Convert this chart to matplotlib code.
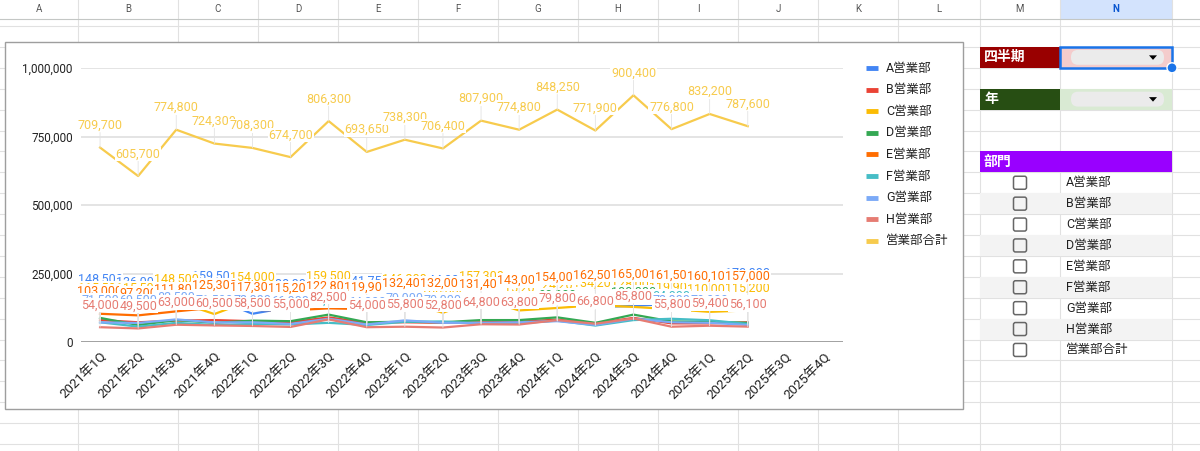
import matplotlib
matplotlib.use('Agg')
import matplotlib.pyplot as plt
from matplotlib.patches import Rectangle, FancyBboxPatch, Polygon, Circle

plt.rcParams['font.family'] = ['Roboto', 'Noto Sans CJK JP', 'DejaVu Sans']

# 横軸 (四半期)
quarters = ['2021年1Q', '2021年2Q', '2021年3Q', '2021年4Q',
            '2022年1Q', '2022年2Q', '2022年3Q', '2022年4Q',
            '2023年1Q', '2023年2Q', '2023年3Q', '2023年4Q',
            '2024年1Q', '2024年2Q', '2024年3Q', '2024年4Q',
            '2025年1Q', '2025年2Q', '2025年3Q', '2025年4Q']

# 各営業部の売上 (2021年1Q～2025年2Q)
sales_a = [148500, 136000, 140000, 159500, 103000, 128000, 136000, 141750, 138000,
           144000, 140000, 136000, 138000, 128000, 131400, 140000, 150000, 170000]
sales_b = [80000, 72000, 78000, 80000, 76000, 72000, 90000, 70000, 72000,
           70000, 72000, 74000, 82000, 68000, 88000, 68000, 68000, 72000]
sales_c = [115500, 115500, 148500, 102000, 154000, 117000, 159500, 120000, 146200,
           106600, 157300, 115200, 124200, 134200, 128000, 119900, 110000, 115200]
sales_d = [88000, 62000, 80000, 70000, 78000, 76000, 100000, 72000, 74000,
           72000, 80000, 80000, 90000, 70000, 100000, 75000, 74000, 70000]
sales_e = [103000, 97200, 111800, 125300, 117300, 115200, 122800, 119900, 132400,
           132000, 131400, 143000, 154000, 162500, 165000, 161500, 160100, 157000]
sales_f = [72000, 56000, 70000, 62000, 66000, 64000, 70000, 62000, 73800,
           75000, 66000, 68000, 78000, 60000, 80000, 84800, 79400, 66000]
sales_g = [71500, 69500, 82500, 71500, 72000, 66000, 85000, 64000, 79000,
           70000, 70000, 72000, 76000, 62200, 85000, 72000, 70000, 62000]
sales_h = [54000, 49500, 63000, 60500, 58500, 55000, 82500, 54000, 55800,
           52800, 64800, 63800, 79800, 66800, 85800, 55800, 59400, 56100]
sales_total = [709700, 605700, 774800, 724300, 708300, 674700, 806300, 693650, 738300,
               706400, 807900, 774800, 848250, 771900, 900400, 776800, 832200, 787600]

names = ['A営業部', 'B営業部', 'C営業部', 'D営業部', 'E営業部',
         'F営業部', 'G営業部', 'H営業部', '営業部合計']
colors = ['#4285F4', '#EA4335', '#FBBC04', '#34A853', '#FF6D01',
          '#46BDC6', '#7BAAF7', '#E67C73', '#F7CB4D']
series = [sales_a, sales_b, sales_c, sales_d, sales_e, sales_f, sales_g, sales_h, sales_total]

fig = plt.figure(figsize=(12, 4.51), dpi=100)

# ---- シート背景 (ピクセル座標) ----
bg = fig.add_axes([0, 0, 1, 1])
bg.set_xlim(0, 1200)
bg.set_ylim(451, 0)
bg.axis('off')

col_edges = [0, 78, 178, 258, 338, 418, 498, 578, 658, 738, 818, 898, 980, 1060, 1172, 1200]
col_names = list('ABCDEFGHIJKLMN')
row_h = 20.9
row_edges = [26 + row_h * k for k in range(21)]

bg.add_patch(Rectangle((1060, 0), 112, 19, fc='#D3E3FD', ec='none', zorder=0))
for x in col_edges[1:-1]:
    bg.plot([x, x], [0, 451], color='#E1E1E1', lw=0.8, zorder=0.5)
bg.plot([0, 1200], [19, 19], color='#C4C7C5', lw=0.8, zorder=0.5)
for y in row_edges:
    bg.plot([0, 1200], [y, y], color='#E1E1E1', lw=0.8, zorder=0.5)
for i, c in enumerate(col_names):
    cx = (col_edges[i] + col_edges[i + 1]) / 2
    bg.text(cx, 9.5, c, ha='center', va='center', fontsize=7,
            color='#0B57D0' if c == 'N' else '#555555',
            fontweight='bold' if c == 'N' else 'normal', zorder=1)

# グラフ枠
bg.add_patch(Rectangle((5, 42), 958, 367, fc='white', ec='#9E9E9E', lw=1, zorder=2))

# ---- 右側のコントロール ----
def cell(r0, r1, x0, x1, color):
    bg.add_patch(Rectangle((x0, row_edges[r0]), x1 - x0, row_edges[r1] - row_edges[r0],
                           fc=color, ec='none', zorder=1))

def dropdown(r):
    y0 = row_edges[r]
    bg.add_patch(FancyBboxPatch((1071, y0 + 3), 93, row_h - 6,
                                boxstyle='round,pad=0,rounding_size=7',
                                fc='#EBEBEB', ec='none', zorder=1.5))
    cy = y0 + row_h / 2
    bg.add_patch(Polygon([[1149, cy - 2], [1157, cy - 2], [1153, cy + 2.5]],
                         closed=True, fc='black', ec='none', zorder=1.6))

cell(1, 2, 980, 1060, '#990000')
cell(1, 2, 1060, 1172, '#F4CCCC')
dropdown(1)
bg.text(984, row_edges[1] + row_h / 2, '四半期', color='white', fontsize=10,
        fontweight='bold', va='center', zorder=2)
bg.add_patch(Rectangle((1060, row_edges[1]), 112, row_h, fc='none', ec='#1A73E8', lw=1.8, zorder=3))
bg.add_patch(Circle((1172, row_edges[2]), 5, fc='#1A73E8', ec='white', lw=1, zorder=3.1))

cell(3, 4, 980, 1060, '#274E13')
cell(3, 4, 1060, 1172, '#D9EAD3')
dropdown(3)
bg.text(984, row_edges[3] + row_h / 2, '年', color='white', fontsize=10,
        fontweight='bold', va='center', zorder=2)

cell(6, 7, 980, 1172, '#9900FF')
bg.text(984, row_edges[6] + row_h / 2, '部門', color='white', fontsize=10,
        fontweight='bold', va='center', zorder=2)

for k, name in enumerate(names):
    r = 7 + k
    if k % 2 == 1:
        cell(r, r + 1, 980, 1172, '#F3F3F3')
    cy = row_edges[r] + row_h / 2
    bg.add_patch(FancyBboxPatch((1013.5, cy - 6.5), 13, 13,
                                boxstyle='round,pad=0,rounding_size=2',
                                fc='none', ec='#666666', lw=1.1, zorder=2))
    bg.text(1066, cy, name, fontsize=9, color='#222222', va='center', zorder=2)

# ---- 凡例 ----
for k, (name, color) in enumerate(zip(names, colors)):
    ly = 68 + 21.6 * k
    bg.plot([866, 878], [ly, ly], color=color, lw=3.5, solid_capstyle='butt', zorder=3)
    bg.text(886, ly, name, fontsize=9, color='#222222', va='center', zorder=3)

# ---- 折れ線グラフ ----
ax = fig.add_axes([81 / 1200, (451 - 342) / 451, 762 / 1200, 274 / 451])
ax.set_facecolor('none')
ax.set_zorder(5)
ax.set_xlim(-0.5, len(quarters) - 0.5)
ax.set_ylim(0, 1000000)
ax.set_yticks([0, 250000, 500000, 750000, 1000000])
ax.set_yticklabels([f'{v:,}' for v in [0, 250000, 500000, 750000, 1000000]],
                   fontsize=8.5, color='#222222')
ax.set_xticks(range(len(quarters)))
ax.set_xticklabels(quarters, rotation=45, ha='right', va='top',
                   rotation_mode='anchor', fontsize=9.5, color='#222222')
ax.tick_params(length=0, pad=6)
for s in ax.spines.values():
    s.set_visible(False)
ax.grid(axis='y', color='#DDDDDD', lw=1.1)
ax.axhline(0, color='#8E8E8E', lw=1.8, zorder=1.5)
ax.set_axisbelow(True)

for vals, color in zip(series, colors):
    ax.plot(range(len(vals)), vals, color=color, lw=1.6, zorder=2,
            solid_joinstyle='round')

for i, (vals, color) in enumerate(zip(series, colors)):
    for xi, v in enumerate(vals):
        ax.annotate(f'{v:,}', (xi, v), xytext=(0, 16), textcoords='offset points',
                    ha='center', va='center', fontsize=9, color=color,
                    zorder=3 + i, annotation_clip=False,
                    bbox=dict(boxstyle='square,pad=0.05', fc='white', ec='none'),
                    arrowprops=dict(arrowstyle='-', color='#E3E3E3', lw=0.6,
                                    shrinkA=0, shrinkB=0))

fig.savefig('out.png', dpi=100)
